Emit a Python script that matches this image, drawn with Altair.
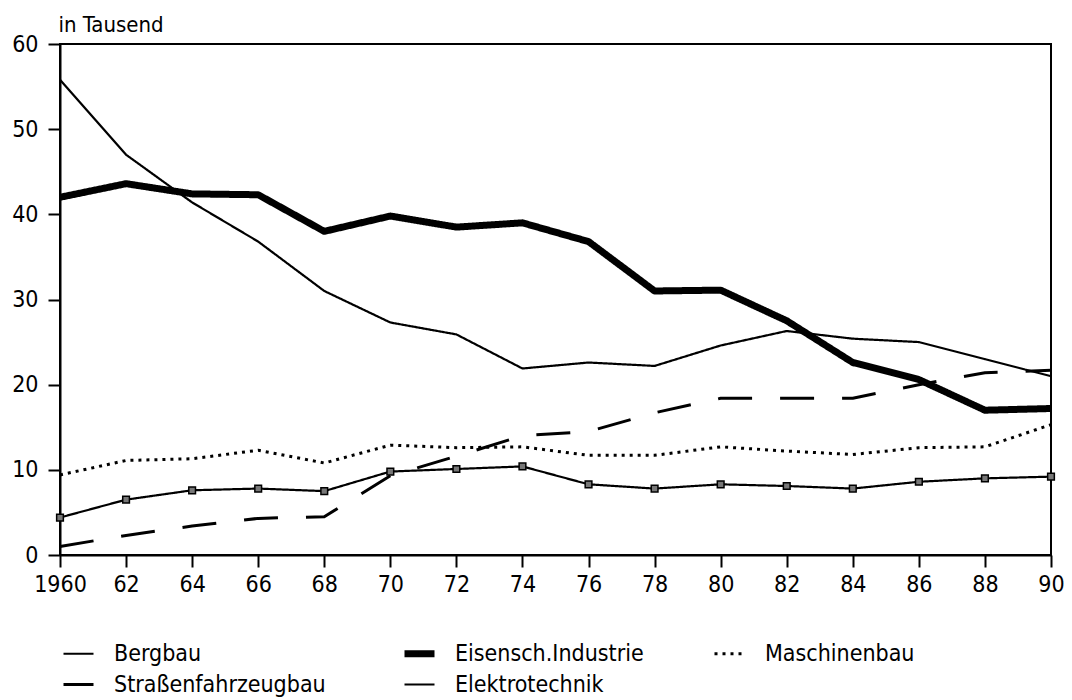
import altair as alt
import pandas as pd

years = [1960, 1962, 1964, 1966, 1968, 1970, 1972, 1974, 1976, 1978, 1980, 1982, 1984, 1986, 1988, 1990]
series_names = ["Bergbau", "Eisensch.Industrie", "Maschinenbau", "Straßenfahrzeugbau", "Elektrotechnik"]
bergbau = [55.8, 47.0, 41.4, 36.8, 31.0, 27.3, 25.9, 21.9, 22.6, 22.2, 24.6, 26.3, 25.4, 25.0, 23.0, 21.0]
eisen = [42.0, 43.6, 42.4, 42.3, 38.0, 39.8, 38.5, 39.0, 36.8, 31.0, 31.1, 27.5, 22.6, 20.6, 17.0, 17.2]
maschinenbau = [9.4, 11.1, 11.3, 12.3, 10.8, 12.9, 12.6, 12.7, 11.7, 11.7, 12.7, 12.2, 11.8, 12.6, 12.7, 15.3]
strassen = [1.0, 2.3, 3.4, 4.3, 4.5, 9.3, 11.6, 14.0, 14.5, 16.7, 18.4, 18.4, 18.4, 20.0, 21.4, 21.7]
elektro = [4.4, 6.5, 7.6, 7.8, 7.5, 9.8, 10.1, 10.4, 8.3, 7.8, 8.3, 8.1, 7.8, 8.6, 9.0, 9.2]
y_ticks = [0, 10, 20, 30, 40, 50, 60]
x_ticks = years

values = [bergbau, eisen, maschinenbau, strassen, elektro]
rows = []
for name, vals in zip(series_names, values):
    for yr, v in zip(years, vals):
        rows.append({"Jahr": yr, "Wert": v, "Reihe": name})
df = pd.DataFrame(rows)

FONT = "Liberation Sans Narrow, DejaVu Sans Condensed, sans-serif"

legend = alt.Legend(
    title=None, orient="none", legendX=0, legendY=80 + 511, direction="horizontal",
    columns=3, columnPadding=64, rowPadding=0, symbolType="stroke", symbolSize=900,
    labelFontSize=23, labelFont=FONT, labelColor="black", symbolStrokeColor="black",
    labelOffset=17, labelLimit=400,
)

x_enc = alt.X("Jahr:Q", scale=alt.Scale(domain=[1960, 1990], nice=False, zero=False),
              axis=alt.Axis(values=x_ticks, title=None, labelPadding=6,
                            labelExpr="datum.value == 1960 ? '1960' : substring(toString(datum.value), 2, 4)"))
y_enc = alt.Y("Wert:Q", scale=alt.Scale(domain=[0, 60], nice=False),
              axis=alt.Axis(values=y_ticks, title="in Tausend", titleAngle=0, titleAlign="left",
                            titleX=-2, titleY=-13, titleFontSize=22, titleFontWeight="normal",
                            titleFont=FONT, titleColor="black", titleBaseline="alphabetic",
                            labelPadding=10))

lines = alt.Chart(df).mark_line(strokeJoin="round").encode(
    x=x_enc,
    y=y_enc,
    color=alt.value("black"),
    strokeDash=alt.StrokeDash("Reihe:N", scale=alt.Scale(
        domain=series_names, range=[[1, 0], [1, 0], [3, 5], [34, 28], [1, 0]]), legend=legend),
    strokeWidth=alt.StrokeWidth("Reihe:N", scale=alt.Scale(
        type="ordinal", domain=series_names, range=[2.2, 7, 3, 3, 2.2]), legend=legend),
    detail="Reihe:N",
)

points = alt.Chart(df).transform_filter(alt.datum.Reihe == "Elektrotechnik").mark_point(
    shape="square", filled=True, fill="#777", stroke="black", strokeWidth=1.5, size=45, opacity=1
).encode(x="Jahr:Q", y="Wert:Q")

chart = alt.layer(lines, points).properties(
    width=991, height=511,
    autosize=alt.AutoSizeParams(type="none"),
    padding={"left": 52, "top": 36, "right": 13, "bottom": 145},
).configure_view(
    stroke="black", strokeWidth=2
).configure_axis(
    domainColor="black", domainWidth=2, tickColor="black", tickWidth=2, tickSize=12,
    labelFont=FONT, labelFontSize=23, labelColor="black", grid=False, labelFlush=False,
)

chart.save("out.html", embed_options={"renderer": "svg", "actions": False})
